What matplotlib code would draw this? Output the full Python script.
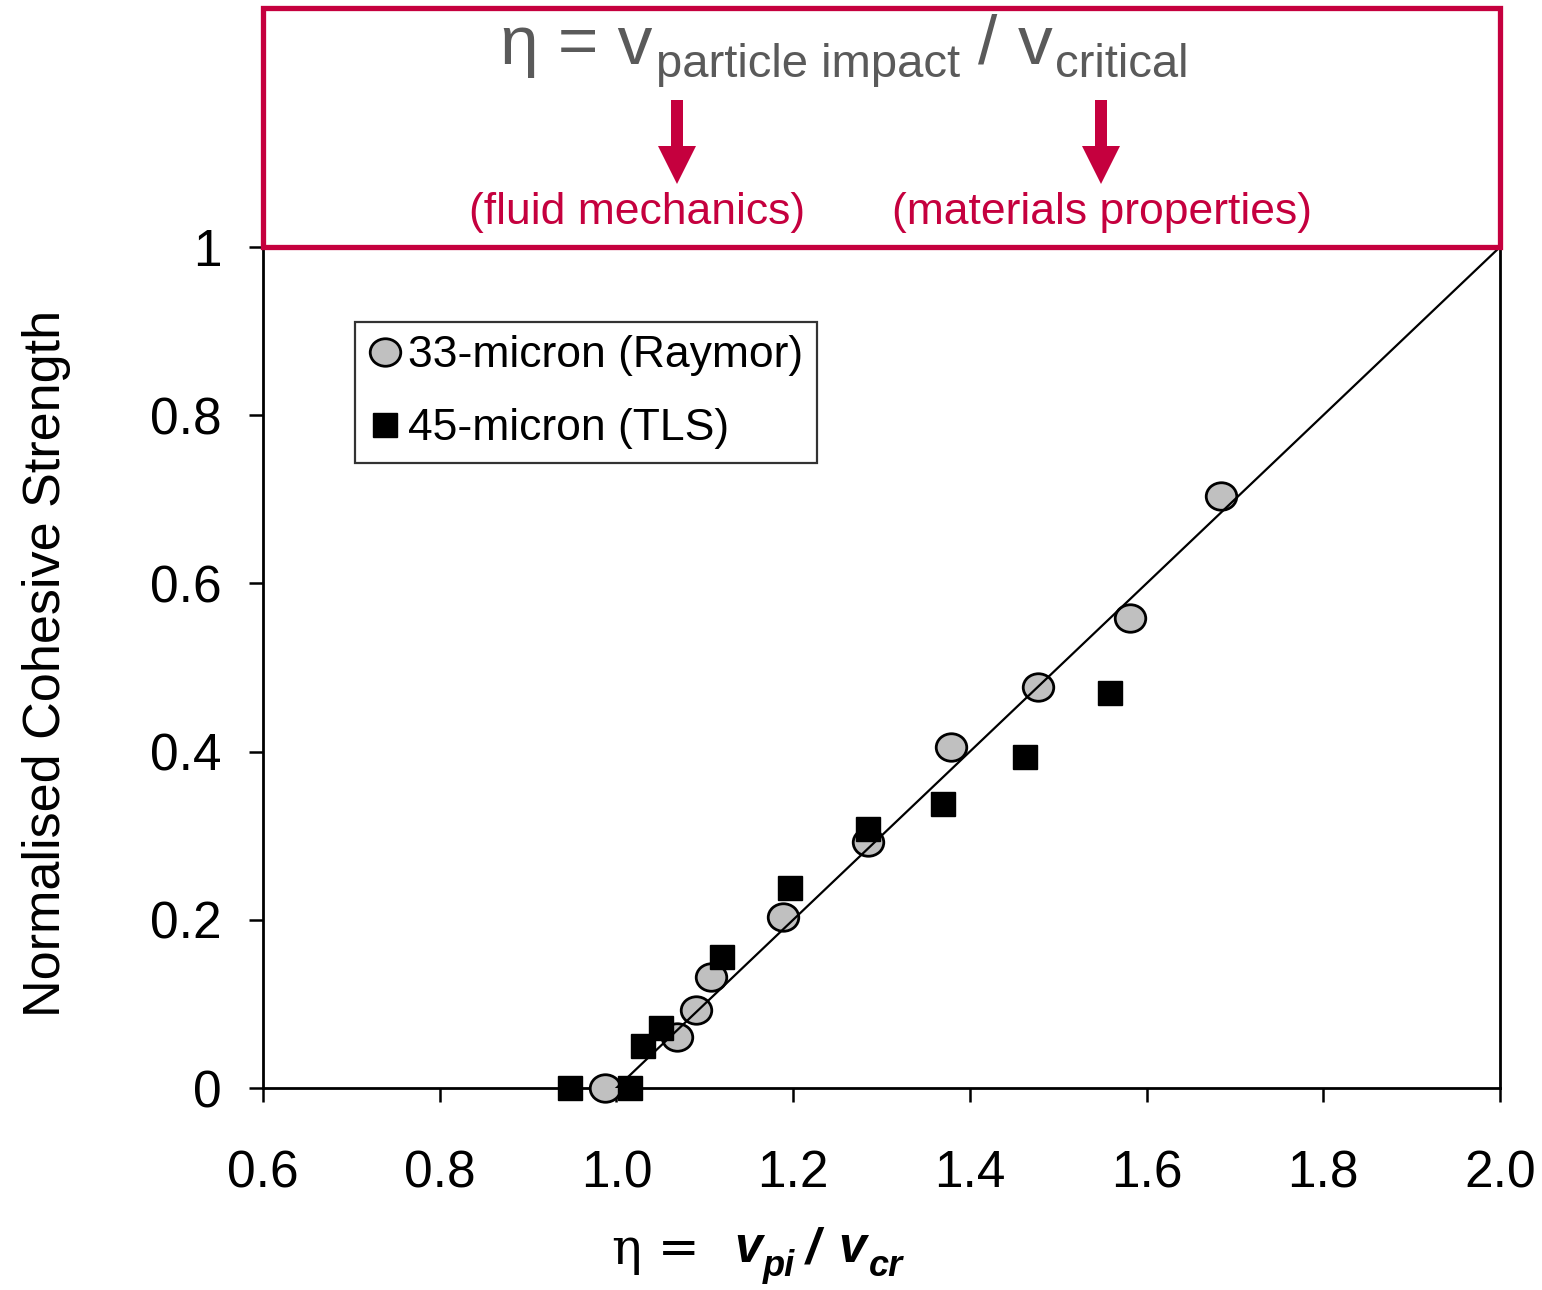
import matplotlib.pyplot as plt
from matplotlib.patches import Rectangle, FancyArrow
from matplotlib.path import Path
from matplotlib.markers import MarkerStyle
from matplotlib.transforms import Affine2D

plt.rcParams['font.family'] = ['Liberation Sans', 'DejaVu Sans']

# Datos: resistencia cohesiva normalizada frente a eta = v_pi / v_cr
raymor_eta = [0.987, 1.068, 1.090, 1.107, 1.188, 1.285, 1.379, 1.477, 1.581, 1.684]
raymor_strength = [0.000, 0.061, 0.093, 0.132, 0.203, 0.293, 0.405, 0.477, 0.559, 0.704]

tls_eta = [0.947, 1.015, 1.030, 1.050, 1.119, 1.196, 1.285, 1.370, 1.462, 1.559]
tls_strength = [0.000, 0.000, 0.050, 0.071, 0.156, 0.238, 0.308, 0.338, 0.394, 0.470]

fit_eta = [1.0, 2.0]
fit_strength = [0.0, 1.0]

x_ticks = [0.6, 0.8, 1.0, 1.2, 1.4, 1.6, 1.8, 2.0]
x_tick_labels = ['0.6', '0.8', '1.0', '1.2', '1.4', '1.6', '1.8', '2.0']
y_ticks = [0, 0.2, 0.4, 0.6, 0.8, 1.0]
y_tick_labels = ['0', '0.2', '0.4', '0.6', '0.8', '1']

W, H = 1542, 1290
RED = '#C5003E'
GREY = '#5A5A5A'

fig = plt.figure(figsize=(W / 100, H / 100), dpi=100)
ax = fig.add_axes([263 / W, (H - 1088) / H, 1237 / W, 841 / H])

# marcador eliptico (un poco mas ancho que alto)
ellipse = Path.unit_circle().transformed(Affine2D().scale(1.0, 0.9))
ellipse_marker = MarkerStyle(ellipse)

ax.plot(raymor_eta, raymor_strength, linestyle='none', marker=ellipse_marker,
        ms=22, mfc='#C0C0C0', mec='black', mew=2, clip_on=False, zorder=3,
        label='33-micron (Raymor)')
ax.plot(fit_eta, fit_strength, color='black', lw=1.6, zorder=4)
ax.plot(tls_eta, tls_strength, linestyle='none', marker='s', ms=17,
        mfc='black', mec='black', mew=1, clip_on=False, zorder=5,
        label='45-micron (TLS)')

ax.set_xlim(0.6, 2.0)
ax.set_ylim(0, 1.0)
ax.set_xticks(x_ticks)
ax.set_xticklabels(x_tick_labels)
ax.set_yticks(y_ticks)
ax.set_yticklabels(y_tick_labels)
ax.tick_params(axis='both', direction='out', length=10, width=1.8,
               labelsize=37, colors='black')
ax.tick_params(axis='x', pad=34)
ax.tick_params(axis='y', pad=20)
for side in ['left', 'bottom', 'right']:
    ax.spines[side].set_linewidth(2)
ax.spines['top'].set_visible(False)

ax.set_ylabel('Normalised Cohesive Strength', fontsize=37.5)
ax.yaxis.set_label_coords(-0.155, 0.505)

leg = ax.legend(loc='upper left', bbox_to_anchor=(0.0744, 0.911), fontsize=32,
                frameon=True, fancybox=False, edgecolor='black',
                handlelength=0.75, handletextpad=0.15, labelspacing=0.72,
                borderpad=0.3, borderaxespad=0, markerscale=1.0)
leg.get_frame().set_linewidth(1.6)

# capa superior en pixeles para el recuadro y la etiqueta del eje x
over = fig.add_axes([0, 0, 1, 1], zorder=10)
over.set_xlim(0, W)
over.set_ylim(H, 0)
over.axis('off')
over.patch.set_alpha(0)

over.add_patch(Rectangle((263, 8), 1237, 239, fill=False, edgecolor=RED, lw=3.8))

over.text(500, 64, 'η = v', fontsize=50, color=GREY, va='baseline')
over.text(656, 77, 'particle impact', fontsize=34, color=GREY, va='baseline')
over.text(978, 64, '/', fontsize=50, color=GREY, va='baseline')
over.text(1018, 64, 'v', fontsize=50, color=GREY, va='baseline')
over.text(1055, 77, 'critical', fontsize=34, color=GREY, va='baseline')

for ax_x in [677, 1101]:
    over.add_patch(FancyArrow(ax_x, 100, 0, 84, width=12, head_width=38,
                              head_length=38, length_includes_head=True,
                              color=RED, lw=0))

over.text(637, 224, '(fluid mechanics)', fontsize=32, color=RED,
          ha='center', va='baseline')
over.text(1102, 224, '(materials properties)', fontsize=32, color=RED,
          ha='center', va='baseline')

# etiqueta del eje x: eta = v_pi / v_cr
over.text(612, 1264, 'η =', fontsize=36, color='black', va='baseline',
          family=['DejaVu Serif'])
bi = dict(fontsize=36, color='black', va='baseline', fontweight='bold', style='italic')
bi_sub = dict(fontsize=26, color='black', va='baseline', fontweight='bold', style='italic')
over.text(734, 1262, 'v', **bi)
over.text(763, 1276, 'pi', **bi_sub)
over.text(806, 1262, '/', **bi)
over.text(838, 1262, 'v', **bi)
over.text(869, 1276, 'cr', **bi_sub)

plt.savefig('out.png', dpi=100)
